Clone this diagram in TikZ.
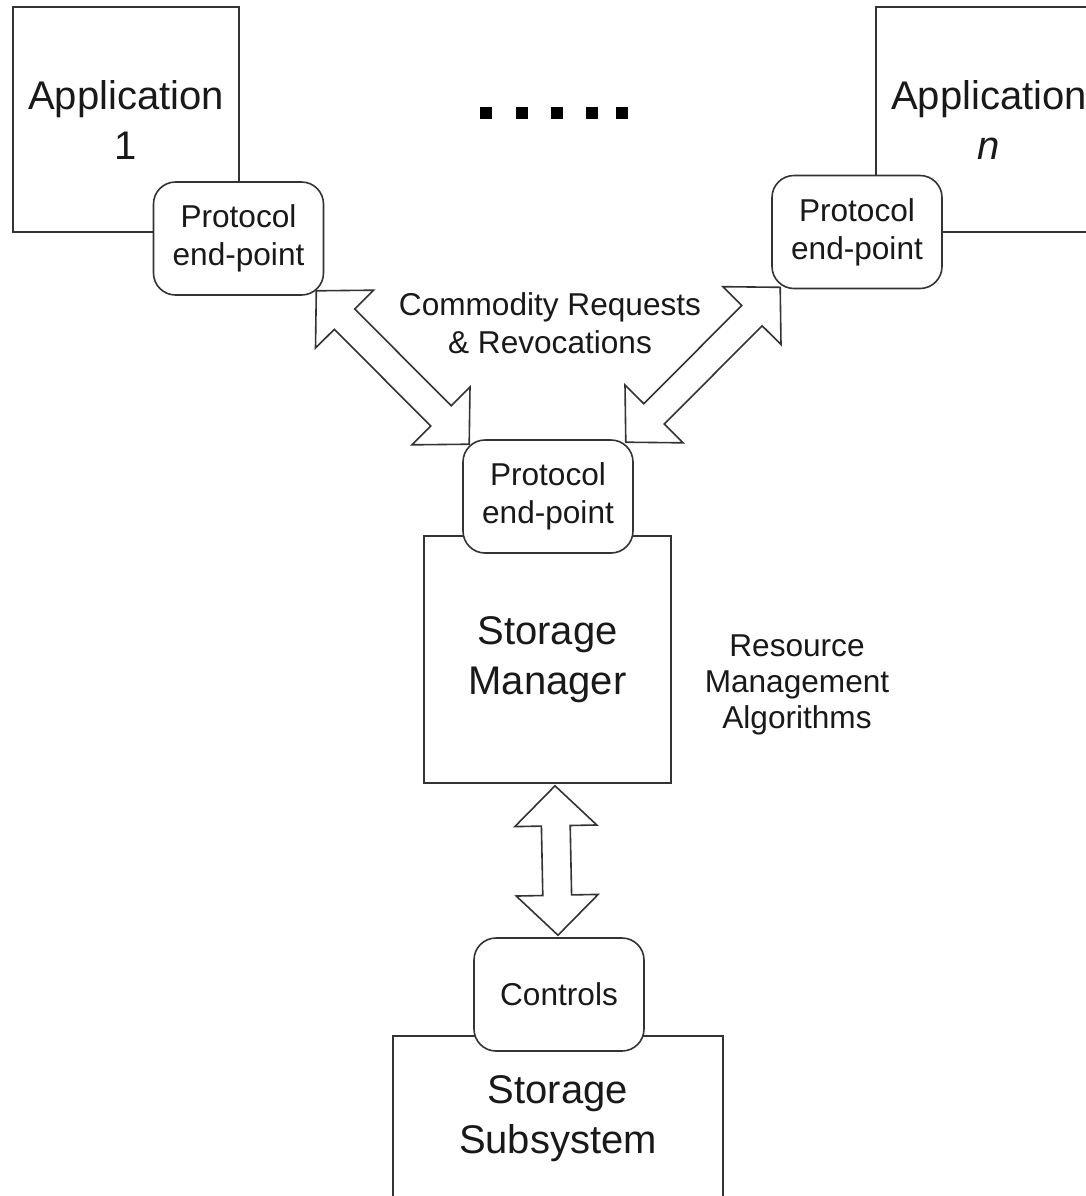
\documentclass[tikz,border=0pt]{standalone}
\usepackage{fontspec}
\setmainfont{Liberation Sans}
\usetikzlibrary{calc}
\newcommand\fbig{\fontsize{20}{25}\selectfont}
\newcommand\fsmall{\fontsize{15.8}{19}\selectfont}
\newcommand\fsmallb{\fontsize{15.8}{18}\selectfont}
% hollow double arrow between two named points
\newcommand\hollowarrow[2]{%
  \coordinate (ha1) at ($(#1)!20pt!(#2)$);
  \coordinate (ha2) at ($(#2)!20pt!(#1)$);
  \draw[arrowline] (#1)
    -- ($(ha1)!20.5pt!90:(#2)$) -- ($(ha1)!7.2pt!90:(#2)$)
    -- ($(ha2)!7.2pt!90:(#2)$) -- ($(ha2)!20.5pt!90:(#2)$)
    -- (#2)
    -- ($(ha2)!20.5pt!-90:(#2)$) -- ($(ha2)!7.2pt!-90:(#2)$)
    -- ($(ha1)!7.2pt!-90:(#2)$) -- ($(ha1)!20.5pt!-90:(#2)$)
    -- cycle;}
\begin{document}
\begin{tikzpicture}[x=0.5pt,y=-0.5pt,
  every node/.style={text=black!90},
  box/.style={draw=black!80, line width=0.8pt, fill=white, inner sep=0pt,
    align=center, font=\fbig},
  endpt/.style={draw=black!80, line width=0.8pt, fill=white, inner sep=0pt,
    rounded corners=11pt, align=center, font=\fsmall,
    minimum width=85pt, minimum height=56.5pt},
  arrowline/.style={draw=black!80, line width=0.8pt, fill=white, line join=miter},
  lbl/.style={align=center, font=\fsmall, inner sep=0pt},
  dotsq/.style={fill=black, inner sep=0pt, minimum size=6pt}]
\useasboundingbox (0,0) rectangle (1086,1196);
\clip (0,0) rectangle (1086,1196);
\fill[white] (0,0) rectangle (1086,1196);

% main boxes
\node[box, minimum width=113pt, minimum height=112.5pt] (app1) at (126,119.5) {Application\\1};
\node[box, minimum width=113pt, minimum height=112.5pt] (appn) at (989,119.5) {Application\\\textit{n}};
\node[box, minimum width=123.5pt, minimum height=123.5pt] (sm) at (547.5,659.5) {Storage\\Manager};
\node[box, minimum width=165pt, minimum height=83pt] (ss) at (558,1119) {Storage\\Subsystem};

% protocol end-points / controls
\node[endpt] (lp) at (238.5,238.5) {Protocol\\end-point};
\node[endpt] (rp) at (857,232) {Protocol\\end-point};
\node[endpt] (cp) at (548,496.5) {Protocol\\end-point};
\node[endpt] (ctl) at (559,994.5) {Controls};

% dots
\foreach \i/\x in {1/486,2/522,3/557,4/592,5/622}
  \node[dotsq] (dot\i) at (\x,113) {};

% arrow end points
\coordinate (la1) at ($(lp.south east)+(-8,-5)$);
\coordinate (la2) at ($(cp.north west)+(7,5)$);
\coordinate (ra1) at ($(rp.south west)+(9,-2)$);
\coordinate (ra2) at ($(cp.north east)+(-8,3)$);
\coordinate (va1) at ($(sm.south)+(7.5,2)$);
\coordinate (va2) at ($(ctl.north)+(-1,-2)$);

\hollowarrow{la1}{la2}
\hollowarrow{ra1}{ra2}
\hollowarrow{va1}{va2}

% labels
\node[lbl] (req) at (550,323) {Commodity Requests\\\& Revocations};
\node[lbl, font=\fsmallb] (rma) at (797,685) {Resource\\Management\\Algorithms};
\end{tikzpicture}
\end{document}
